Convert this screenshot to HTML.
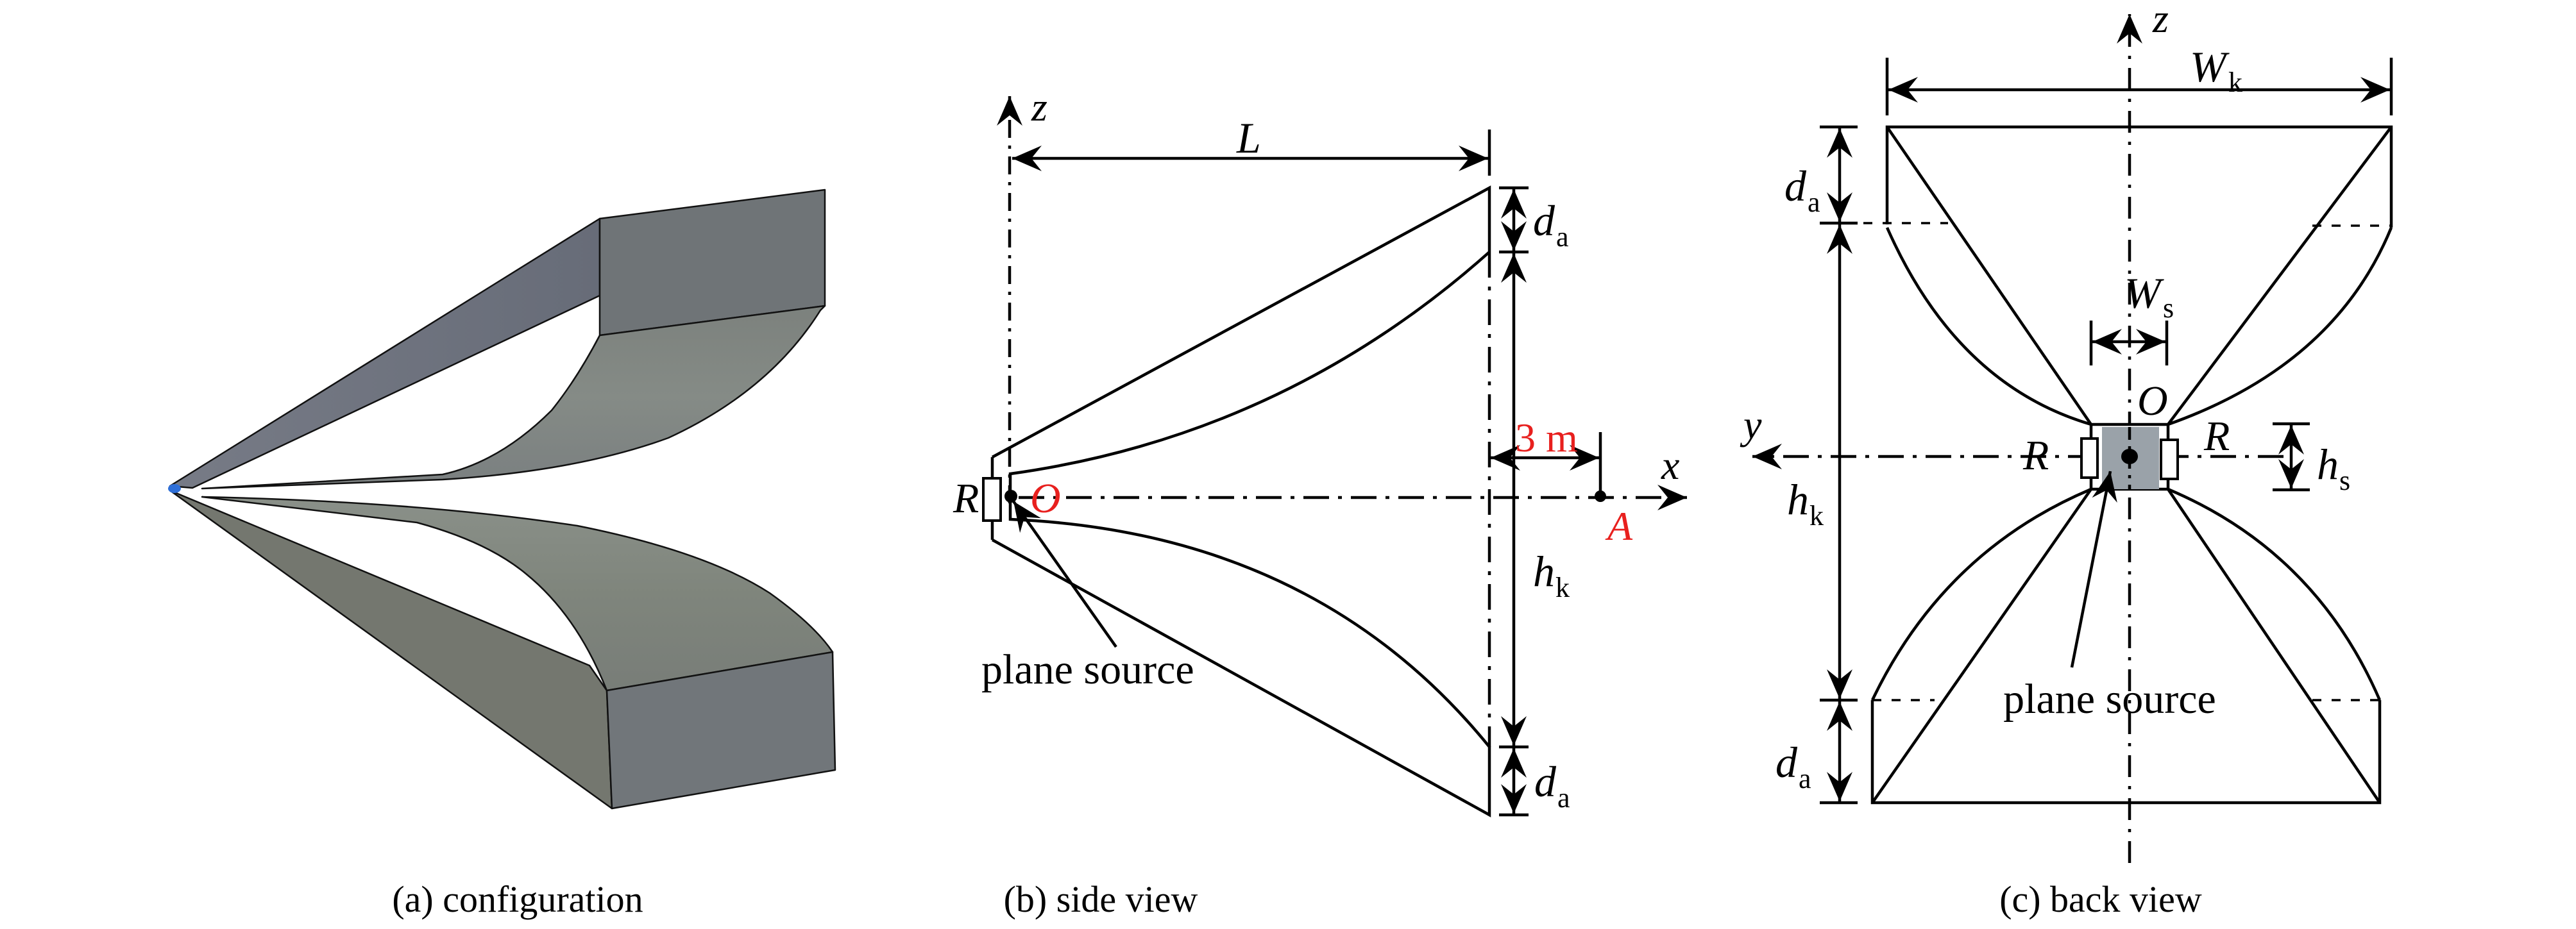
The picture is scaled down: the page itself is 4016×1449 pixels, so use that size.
<!DOCTYPE html>
<html><head><meta charset="utf-8"><style>
html,body{margin:0;padding:0;background:#fff;}
svg{display:block;}
text{font-family:"Liberation Serif",serif;}
.i{font-style:italic;}
</style></head><body>
<svg width="4016" height="1449" viewBox="0 0 4016 1449" xmlns="http://www.w3.org/2000/svg">
<defs>
<marker id="ar" markerUnits="userSpaceOnUse" markerWidth="60" markerHeight="60" viewBox="-50 -25 60 50" refX="0" refY="0" orient="auto-start-reverse">
<path d="M0,0 L-46,-20 L-30,0 L-46,20 Z" fill="#000"/>
</marker>
<linearGradient id="g1" x1="0" y1="0" x2="1" y2="0"><stop offset="0" stop-color="#777b86"/><stop offset="1" stop-color="#676c78"/></linearGradient>
<linearGradient id="g2" x1="0" y1="0" x2="0" y2="1"><stop offset="0" stop-color="#7c817d"/><stop offset="0.5" stop-color="#858b86"/><stop offset="1" stop-color="#7a7f80"/></linearGradient>
<linearGradient id="g3" x1="0" y1="0" x2="0" y2="1"><stop offset="0" stop-color="#8a9089"/><stop offset="0.5" stop-color="#7f857c"/><stop offset="1" stop-color="#787d78"/></linearGradient>
</defs>

<!-- (a) configuration -->
<g stroke="#111" stroke-width="2.5" stroke-linejoin="round">
<polygon points="265,758 935,341 935,461 300,761" fill="url(#g1)"/>
<polygon points="935,341 1286,296 1286,477 935,523" fill="#6f7477"/>
<path d="M935,523 Q900,590 860,640 Q780,720 690,740 L315,762 L690,748 Q900,735 1042,683 Q1200,610 1279,484 L1286,477 Z" fill="url(#g2)"/>
<polygon points="265,765 919,1038 946,1077 954,1261" fill="#74776f"/>
<path d="M946,1077 Q900,960 820,895 Q760,845 650,815 L315,775 Q650,782 900,820 Q1100,860 1200,925 Q1270,975 1298,1017 Z" fill="url(#g3)"/>
<polygon points="946,1077 1298,1017 1302,1201 954,1261" fill="#71767a"/>
</g>
<ellipse cx="272" cy="762" rx="10" ry="7" fill="#2e6fd8"/>
<text x="807" y="1422" font-size="58" text-anchor="middle">(a) configuration</text>

<!-- (b) side view -->
<g stroke="#000" stroke-width="4.5" fill="none">
<line x1="1574" y1="785" x2="1574" y2="150" stroke-dasharray="28 12 5 12" marker-end="url(#ar)"/>
<line x1="1588" y1="776" x2="2630" y2="776" stroke-dasharray="40 14 6 14" marker-end="url(#ar)"/>
<line x1="2322" y1="393" x2="2322" y2="1165" stroke-dasharray="40 14 6 14"/>
<line x1="2322" y1="202" x2="2322" y2="274"/>
<line x1="1578" y1="247" x2="2320" y2="247" marker-start="url(#ar)" marker-end="url(#ar)"/>
<polyline points="1547,713 2322,293 2322,393"/>
<path d="M1575,776 L1575,739 Q2000,680 2322,393"/>
<path d="M1575,776 L1575,810 Q2050,830 2322,1165 L2322,1271 L1547,842"/>
<line x1="1547" y1="713" x2="1547" y2="744"/>
<line x1="1547" y1="813" x2="1547" y2="842"/>
<rect x="1533" y="746" width="27" height="66" fill="#fff" stroke-width="4"/>
<line x1="2337" y1="293" x2="2383" y2="293"/>
<line x1="2337" y1="393" x2="2383" y2="393"/>
<line x1="2337" y1="1165" x2="2383" y2="1165"/>
<line x1="2337" y1="1271" x2="2383" y2="1271"/>
<line x1="2360" y1="295" x2="2360" y2="391" marker-start="url(#ar)" marker-end="url(#ar)"/>
<line x1="2360" y1="395" x2="2360" y2="1163" marker-start="url(#ar)" marker-end="url(#ar)"/>
<line x1="2360" y1="1167" x2="2360" y2="1269" marker-start="url(#ar)" marker-end="url(#ar)"/>
<line x1="2495" y1="674" x2="2495" y2="774"/>
<line x1="2324" y1="714" x2="2493" y2="714" marker-start="url(#ar)" marker-end="url(#ar)"/>
<line x1="1740" y1="1009" x2="1580" y2="782" marker-end="url(#ar)"/>
</g>
<circle cx="1576" cy="774" r="10" fill="#000"/>
<circle cx="2495" cy="774" r="9" fill="#000"/>
<text class="i" x="1608" y="188" font-size="64">z</text>
<text class="i" x="1928" y="238" font-size="68">L</text>
<text class="i" x="1486" y="799" font-size="66">R</text>
<text class="i" x="1606" y="799" font-size="66" fill="#e8201e">O</text>
<text class="i" x="2390" y="367" font-size="68">d</text><text x="2426" y="384" font-size="44">a</text>
<text class="i" x="2390" y="914" font-size="68">h</text><text x="2425" y="931" font-size="44">k</text>
<text class="i" x="2392" y="1242" font-size="68">d</text><text x="2428" y="1259" font-size="44">a</text>
<text x="2362" y="704" font-size="64" fill="#e8201e">3 m</text>
<text class="i" x="2506" y="842" font-size="64" fill="#e8201e">A</text>
<text class="i" x="2590" y="747" font-size="64">x</text>
<text x="1530" y="1066" font-size="66">plane source</text>
<text x="1716" y="1422" font-size="58" text-anchor="middle">(b) side view</text>

<!-- (c) back view -->
<g stroke="#000" stroke-width="4.5" fill="none">
<line x1="3320" y1="1346" x2="3320" y2="22" stroke-dasharray="34 14 5 14" marker-end="url(#ar)"/>
<line x1="3560" y1="712" x2="2732" y2="712" stroke-dasharray="40 14 6 14" marker-end="url(#ar)"/>
<line x1="2942" y1="90" x2="2942" y2="180"/>
<line x1="3728" y1="90" x2="3728" y2="180"/>
<line x1="2944" y1="140" x2="3726" y2="140" marker-start="url(#ar)" marker-end="url(#ar)"/>
<polyline points="2942,350 2942,198 3728,198 3728,355"/>
<line x1="2942" y1="198" x2="3260" y2="662"/>
<line x1="3728" y1="198" x2="3380" y2="662"/>
<path d="M2942,355 Q3050,600 3260,662"/>
<path d="M3728,355 Q3640,570 3380,662"/>
<polyline points="2919,1092 2919,1252 3710,1252 3710,1092"/>
<line x1="2919" y1="1252" x2="3260" y2="763"/>
<line x1="3710" y1="1252" x2="3380" y2="763"/>
<path d="M2919,1092 Q3030,860 3260,763"/>
<path d="M3710,1092 Q3610,860 3380,763"/>
<g stroke-dasharray="14 16" stroke-width="3.5">
<line x1="2875" y1="348" x2="3037" y2="348"/>
<line x1="3605" y1="352" x2="3728" y2="352"/>
<line x1="2919" y1="1092" x2="3016" y2="1092"/>
<line x1="3605" y1="1092" x2="3710" y2="1092"/>
</g>
<line x1="2837" y1="198" x2="2896" y2="198"/>
<line x1="2837" y1="348" x2="2896" y2="348"/>
<line x1="2837" y1="1092" x2="2896" y2="1092"/>
<line x1="2837" y1="1252" x2="2896" y2="1252"/>
<line x1="2868" y1="200" x2="2868" y2="346" marker-start="url(#ar)" marker-end="url(#ar)"/>
<line x1="2868" y1="350" x2="2868" y2="1090" marker-start="url(#ar)" marker-end="url(#ar)"/>
<line x1="2868" y1="1094" x2="2868" y2="1250" marker-start="url(#ar)" marker-end="url(#ar)"/>
<line x1="3260" y1="500" x2="3260" y2="570"/>
<line x1="3378" y1="500" x2="3378" y2="570"/>
<line x1="3262" y1="533" x2="3376" y2="533" marker-start="url(#ar)" marker-end="url(#ar)"/>
<line x1="3543" y1="661" x2="3601" y2="661"/>
<line x1="3543" y1="764" x2="3601" y2="764"/>
<line x1="3572" y1="663" x2="3572" y2="762" marker-start="url(#ar)" marker-end="url(#ar)"/>
</g>
<rect x="3260" y="662" width="120" height="101" fill="#fff" stroke="#000" stroke-width="4.5"/>
<rect x="3277" y="666" width="89" height="97" fill="#9aa2a9"/>
<line x1="3320" y1="666" x2="3320" y2="763" stroke="#000" stroke-width="4.5" stroke-dasharray="20 10 5 10"/>
<rect x="3245" y="684" width="25" height="61" fill="#fff" stroke="#000" stroke-width="4"/>
<rect x="3369" y="686" width="26" height="61" fill="#fff" stroke="#000" stroke-width="4"/>
<ellipse cx="3320" cy="712" rx="13" ry="12" fill="#000"/>
<line x1="3230" y1="1041" x2="3290" y2="735" stroke="#000" stroke-width="4.5" marker-end="url(#ar)"/>
<text class="i" x="3356" y="50" font-size="64">z</text>
<text class="i" x="3414" y="127" font-size="68">W</text><text x="3474" y="143" font-size="44">k</text>
<text class="i" x="3312" y="480" font-size="68">W</text><text x="3372" y="495" font-size="44">s</text>
<text class="i" x="3332" y="647" font-size="66">O</text>
<text class="i" x="3154" y="732" font-size="66">R</text>
<text class="i" x="3436" y="702" font-size="66">R</text>
<text class="i" x="2718" y="684" font-size="64">y</text>
<text class="i" x="3612" y="747" font-size="68">h</text><text x="3647" y="764" font-size="44">s</text>
<text class="i" x="2782" y="313" font-size="68">d</text><text x="2818" y="330" font-size="44">a</text>
<text class="i" x="2786" y="802" font-size="68">h</text><text x="2821" y="819" font-size="44">k</text>
<text class="i" x="2768" y="1212" font-size="68">d</text><text x="2804" y="1229" font-size="44">a</text>
<text x="3289" y="1112" font-size="66" text-anchor="middle">plane source</text>
<text x="3275" y="1422" font-size="58" text-anchor="middle">(c) back view</text>
</svg>
</body></html>
